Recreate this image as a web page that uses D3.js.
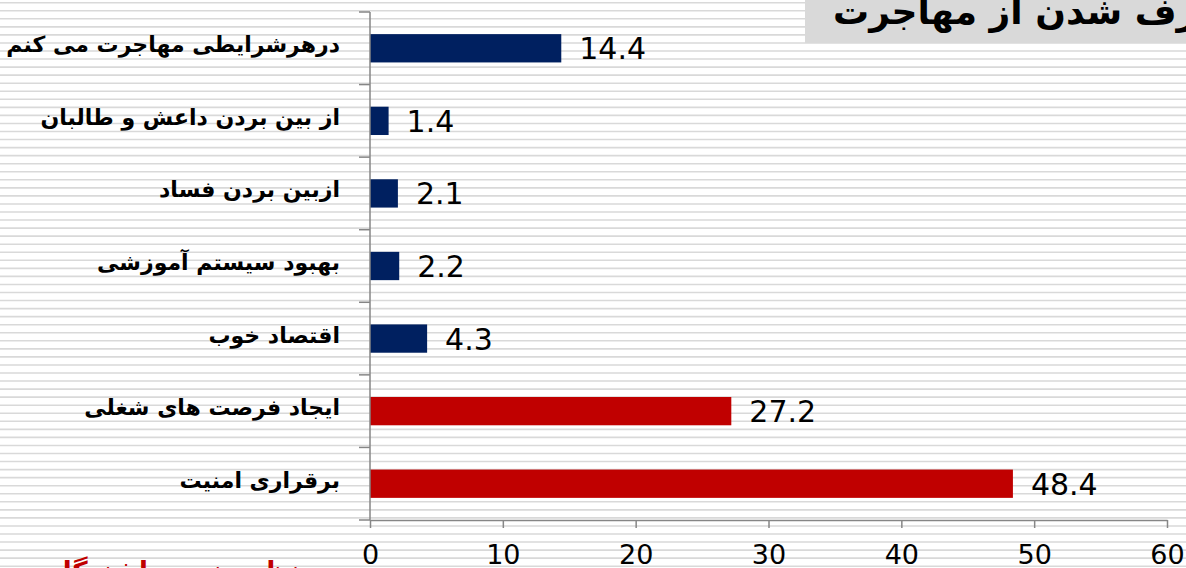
<!DOCTYPE html>
<html>
<head>
  <meta charset="utf-8">
  <title>Bar chart</title>
  <script src="https://d3js.org/d3.v7.min.js"></script>
  <style>
    body { margin: 0; background: #fff; overflow: hidden; }
    text { font-family: "DejaVu Sans", Verdana, sans-serif; }
  </style>
</head>
<body>
  <script>
    // categories top to bottom, values in percent
    const categories = [
      "درهرشرایطی مهاجرت می کنم",
      "از بین بردن داعش و طالبان",
      "ازبین بردن فساد",
      "بهبود سیستم آموزشی",
      "اقتصاد خوب",
      "ایجاد فرصت های شغلی",
      "برقراری امنیت"
    ];
    const values = [14.4, 1.4, 2.1, 2.2, 4.3, 27.2, 48.4];
    const groups = ["navy", "navy", "navy", "navy", "navy", "red", "red"];
    const xTicks = [0, 10, 20, 30, 40, 50, 60];
    const titleText = "عوامل منصرف شدن از مهاجرت";
    const footText = "نظرسنجی باشندگان در افغانستان ۱۳۹۸";

    const width = 1186,
      height = 568;

    const colors = { navy: "#002060", red: "#c00000" };

    let svg = d3.select("body")
      .append("svg")
      .attr("width", width)
      .attr("height", height);

    // striped background
    svg.append("g")
      .selectAll("line")
      .data(d3.range(2.7, height, 8.05))
      .enter()
      .append("line")
      .attr("x1", 0)
      .attr("x2", width)
      .attr("y1", d => d)
      .attr("y2", d => d)
      .attr("stroke", "#d9d9d9")
      .attr("stroke-width", 1.6);

    let x = d3.scaleLinear()
      .domain([0, 60])
      .range([370, 1167]);

    let y = d3.scaleBand()
      .domain(categories)
      .range([12, 520])
      .paddingInner(0.61)
      .paddingOuter(0.305);

    // bars
    svg.selectAll(".bar")
      .data(values)
      .enter()
      .append("rect")
      .attr("class", "bar")
      .attr("x", x(0))
      .attr("y", (d, i) => y(categories[i]))
      .attr("width", d => x(d) - x(0))
      .attr("height", y.bandwidth())
      .attr("fill", (d, i) => colors[groups[i]]);

    // value labels
    svg.selectAll(".val")
      .data(values)
      .enter()
      .append("text")
      .attr("class", "val")
      .attr("x", d => x(d) + 18)
      .attr("y", (d, i) => y(categories[i]) + y.bandwidth() / 2 + 11)
      .attr("font-size", "30px")
      .attr("fill", "#000")
      .text(d => d.toFixed(1));

    // category labels
    svg.selectAll(".cat")
      .data(categories)
      .enter()
      .append("text")
      .attr("class", "cat")
      .attr("x", 340)
      .attr("y", d => y(d) + y.bandwidth() / 2 + 4)
      .attr("text-anchor", "end")
      .attr("font-size", "22px")
      .attr("font-weight", "bold")
      .attr("fill", "#000")
      .text(d => d);

    // vertical axis with ticks at band boundaries
    let step = y.step();
    svg.append("line")
      .attr("x1", x(0)).attr("x2", x(0))
      .attr("y1", 12).attr("y2", 520)
      .attr("stroke", "#868686").attr("stroke-width", 1.5);

    svg.append("g")
      .selectAll("line")
      .data(d3.range(categories.length + 1))
      .enter()
      .append("line")
      .attr("x1", x(0) - 11).attr("x2", x(0))
      .attr("y1", i => 12 + i * step)
      .attr("y2", i => 12 + i * step)
      .attr("stroke", "#868686").attr("stroke-width", 1.5);

    // horizontal axis
    let xAxis = svg.append("g")
      .attr("transform", "translate(0,520)")
      .call(d3.axisBottom(x).tickValues(xTicks).tickSize(8).tickSizeOuter(0).tickFormat(d3.format("d")));

    xAxis.select(".domain").attr("stroke", "#868686").attr("stroke-width", 1.5);
    xAxis.selectAll(".tick line").attr("stroke", "#868686").attr("stroke-width", 1.5);
    xAxis.selectAll(".tick text")
      .attr("y", 44)
      .attr("dy", 0)
      .attr("font-size", "27px")
      .attr("font-family", "'DejaVu Sans', Verdana, sans-serif")
      .attr("fill", "#000");

    // title box (cut by the right edge)
    svg.append("rect")
      .attr("x", 805).attr("y", 0)
      .attr("width", width - 805).attr("height", 43)
      .attr("fill", "#d9d9d9");

    let title = svg.append("text")
      .attr("y", 24)
      .attr("font-size", "36px")
      .attr("font-weight", "bold")
      .attr("fill", "#000")
      .text(titleText);
    // left end of the title sits at x = 833, the rest runs past the edge
    title.attr("x", 833 + title.node().getComputedTextLength())
      .attr("text-anchor", "end");

    // red footnote, mostly below the bottom edge
    svg.append("text")
      .attr("x", 300)
      .attr("y", 580)
      .attr("text-anchor", "end")
      .attr("font-size", "26px")
      .attr("font-weight", "bold")
      .attr("fill", "#c00000")
      .text(footText);
  </script>
</body>
</html>
